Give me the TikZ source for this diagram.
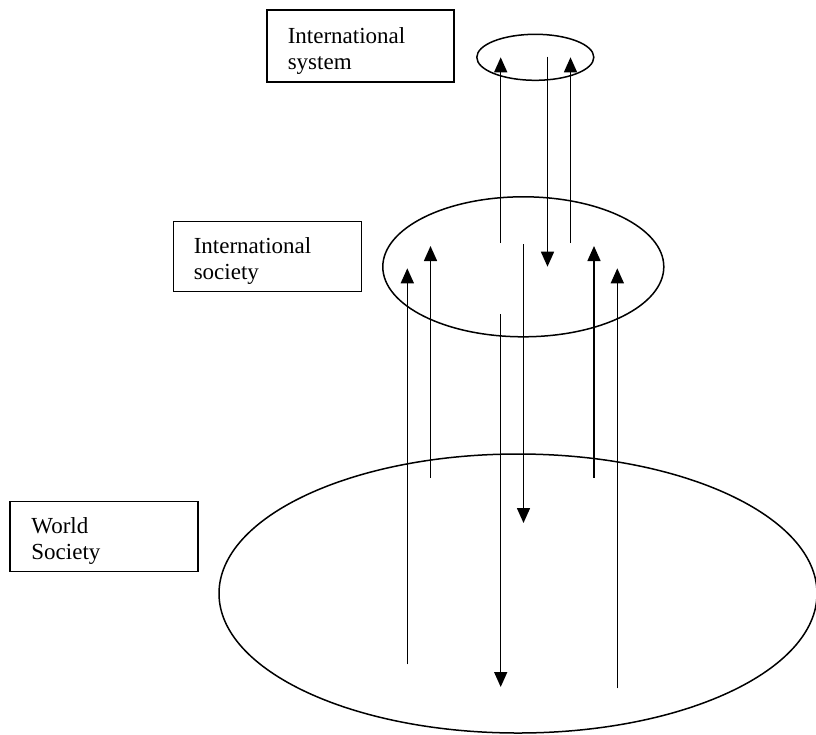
\documentclass[tikz,border=0pt]{standalone}
\usepackage{fontspec}
\setmainfont{Liberation Serif}
\usetikzlibrary{arrows.meta,shapes.geometric}

\begin{document}
\begin{tikzpicture}[x=1pt,y=-1pt,line width=1.5pt,
  labelbox/.style={draw,rectangle,line width=1.6pt,anchor=north west,inner sep=0pt},
  boxtext/.style={anchor=north west,align=left,inner sep=0pt,
    font=\fontsize{23}{26}\selectfont},
  level/.style={draw,ellipse,inner sep=0pt},
  flow/.style={-{Triangle[width=13pt,length=15pt]}}]

\useasboundingbox (0,0) rectangle (816,734);

% the three levels
\node[level,minimum width=117pt,minimum height=46pt] (sys) at (535.3,57.3) {};
\node[level,minimum width=281pt,minimum height=140pt] (soc) at (523.3,266.8) {};
\node[level,minimum width=598pt,minimum height=279pt] (world) at (518,593.5) {};

% labels in frames
\node[labelbox,minimum width=187pt,minimum height=72pt] (sysbox) at (266,9) {};
\node[boxtext] (systext) at (287,26.4) {International\\system};
\node[labelbox,minimum width=188pt,minimum height=70pt] (socbox) at (172.7,220.7) {};
\node[boxtext] (soctext) at (193,237) {International\\society};
\node[labelbox,minimum width=188pt,minimum height=70pt] (worldbox) at (9.3,500.7) {};
\node[boxtext] (worldtext) at (30.7,517) {World\\Society};

% flows between the international system and international society
\coordinate (a1s) at (500.7,243);   \coordinate (a1e) at (500.7,57.3);
\coordinate (a2s) at (547.5,56.7);  \coordinate (a2e) at (547.5,266.7);
\coordinate (a3s) at (570.5,243);   \coordinate (a3e) at (570.5,57.3);
\draw[flow] (a1s) -- (a1e);
\draw[flow] (a2s) -- (a2e);
\draw[flow] (a3s) -- (a3e);

% flows between international society and world society
\coordinate (b1s) at (407.3,664.3); \coordinate (b1e) at (407.3,268.3);
\coordinate (b2s) at (430.5,477.7); \coordinate (b2e) at (430.5,246);
\coordinate (b3s) at (523.5,244);   \coordinate (b3e) at (523.5,523);
\coordinate (b4s) at (594,477.7);   \coordinate (b4e) at (594,246);
\coordinate (b5s) at (617.3,688.3); \coordinate (b5e) at (617.3,268.3);
\coordinate (b6s) at (500.7,314);   \coordinate (b6e) at (500.7,687);
\draw[flow] (b1s) -- (b1e);
\draw[flow] (b2s) -- (b2e);
\draw[flow] (b3s) -- (b3e);
\draw[flow] (b4s) -- (b4e);
\draw[flow] (b5s) -- (b5e);
\draw[flow] (b6s) -- (b6e);
\end{tikzpicture}
\end{document}
